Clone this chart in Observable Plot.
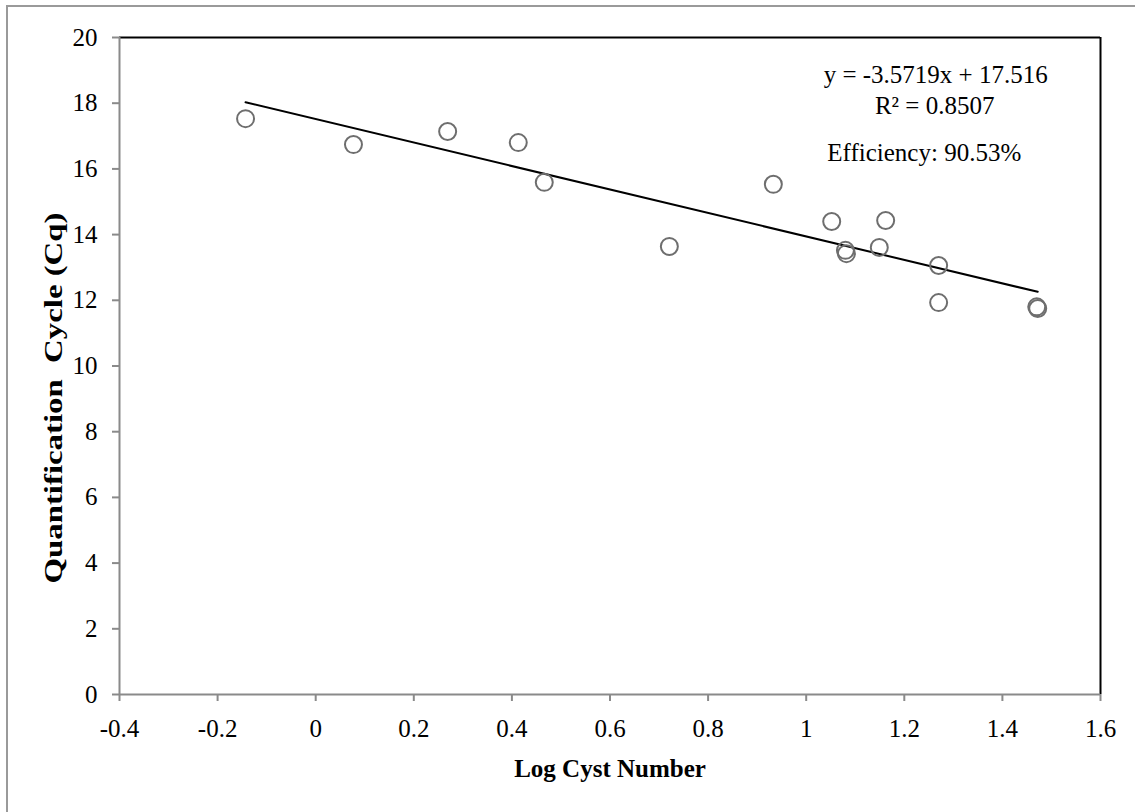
<!DOCTYPE html>
<html>
<head>
<meta charset="utf-8">
<script src="https://cdn.jsdelivr.net/npm/d3@7"></script>
<script src="https://cdn.jsdelivr.net/npm/@observablehq/plot@0.6"></script>
<style>
  html, body { margin: 0; padding: 0; background: #fff; overflow: hidden; }
  #wrap { position: relative; width: 1135px; height: 812px; }
  #frame { position: absolute; left: 6px; top: 5px; width: 1200px; height: 900px;
           border-top: 2px solid #9a9a9a; border-left: 2px solid #9a9a9a; pointer-events: none; }
  #chart { position: absolute; left: 0; top: 0; }
  svg text { white-space: pre; }
</style>
</head>
<body>
<div id="wrap"><div id="chart"></div><div id="frame"></div></div>
<script>
// Data
const logCyst = [-0.143, 0.077, 0.269, 0.413, 0.466, 0.721, 0.933, 1.052, 1.080, 1.082, 1.162, 1.149, 1.270, 1.270, 1.470, 1.472];
const cq      = [17.53, 16.74, 17.14, 16.80, 15.59, 13.64, 15.53, 14.40, 13.52, 13.42, 14.43, 13.61, 13.06, 11.93, 11.80, 11.75];
const slope = -3.5719;
const intercept = 17.516;
const xTicks = [-0.4, -0.2, 0, 0.2, 0.4, 0.6, 0.8, 1, 1.2, 1.4, 1.6];
const yTicks = [0, 2, 4, 6, 8, 10, 12, 14, 16, 18, 20];
const xTitle = "Log Cyst Number";
const yTitle = "Quantification  Cycle (Cq)";
const eqText = "y = -3.5719x + 17.516";
const r2Text = "R\u00b2 = 0.8507";
const effText = "Efficiency: 90.53%";
// annotation anchor positions (data units)
const notes = [
  {x: 1.264, y: 18.60, text: eqText, anchor: "middle"},
  {x: 1.262, y: 17.66, text: r2Text, anchor: "middle"},
  {x: 1.043, y: 16.23, text: effText, anchor: "start"}
];

const points = logCyst.map((x, i) => ({x, y: cq[i]}));
const xMin = d3.min(logCyst), xMax = d3.max(logCyst);
const fit = [xMin, xMax].map(x => ({x, y: slope * x + intercept}));

const chart = Plot.plot({
  width: 1135,
  height: 812,
  marginLeft: 119,
  marginRight: 35,
  marginTop: 37,
  marginBottom: 118,
  style: {fontFamily: "'Liberation Serif', 'Times New Roman', serif", fontSize: "25px", color: "#000", background: "transparent"},
  x: {domain: [-0.4, 1.6]},
  y: {domain: [0, 20]},
  marks: [
    Plot.ruleY([20], {stroke: "#000", strokeWidth: 2}),
    Plot.ruleX([1.6], {stroke: "#000", strokeWidth: 2}),
    Plot.axisX({ticks: xTicks, tickSize: 7, tickPadding: 18, stroke: "#8a8a8a", strokeWidth: 2, tickFormat: d => String(d), label: null}),
    Plot.axisY({ticks: yTicks, tickSize: 7, tickPadding: 15, stroke: "#8a8a8a", strokeWidth: 2, tickFormat: d => String(d), label: null}),
    Plot.ruleX([-0.4], {stroke: "#8a8a8a", strokeWidth: 2}),
    Plot.ruleY([0], {stroke: "#8a8a8a", strokeWidth: 2}),
    Plot.line(fit, {x: "x", y: "y", stroke: "#000", strokeWidth: 2}),
    Plot.dot(points, {x: "x", y: "y", r: 8.5, stroke: "#6e6e6e", strokeWidth: 2, fill: "none"}),
    Plot.text(notes.filter(d => d.anchor === "middle"), {x: "x", y: "y", text: "text", textAnchor: "middle", lineAnchor: "bottom", fill: "#000"}),
    Plot.text(notes.filter(d => d.anchor === "start"), {x: "x", y: "y", text: "text", textAnchor: "start", lineAnchor: "bottom", fill: "#000"}),
    Plot.text([xTitle], {text: d => d, frameAnchor: "bottom", textAnchor: "middle", lineAnchor: "bottom", dy: 82, fontWeight: "bold", fill: "#000"}),
    Plot.text([yTitle], {text: d => d, frameAnchor: "left", textAnchor: "middle", lineAnchor: "middle", rotate: -90, dx: -66, dy: 32, fontWeight: "bold", fill: "#000"})
  ]
});
// the reference's rotated title is drawn stretched along its length
d3.select(chart).selectAll("text")
  .filter(function () { return this.textContent === yTitle; })
  .attr("textLength", 371)
  .attr("lengthAdjust", "spacingAndGlyphs");
document.getElementById("chart").appendChild(chart);
</script>
</body>
</html>
